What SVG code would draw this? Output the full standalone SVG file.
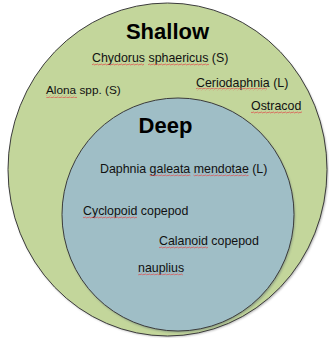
<svg xmlns="http://www.w3.org/2000/svg" width="329" height="338" viewBox="0 0 329 338">
  <style>
    .t { font-family: "Liberation Sans", Arial, sans-serif; font-size: 12.4px; fill: #111; }
    .h { font-family: "Liberation Sans", Arial, sans-serif; font-size: 22px; font-weight: bold; fill: #000; text-anchor: middle; }
    .ring { stroke: #3c3c3c; stroke-width: 1; }
    .sq { fill: url(#squiggle); }
  </style>
  <defs>
    <filter id="shadow" x="-10%" y="-10%" width="120%" height="120%">
      <feGaussianBlur stdDeviation="1"/>
    </filter>
    <pattern id="squiggle" width="4" height="3" patternUnits="userSpaceOnUse">
      <path d="M0,2.2 L1,0.8 L3,2.2 L4,0.8" fill="none" stroke="#e04848" stroke-width="0.65"/>
    </pattern>
  </defs>
  <rect width="329" height="338" fill="#ffffff"/>

  <g id="shallow">
    <ellipse cx="168.5" cy="171" rx="159.5" ry="166" fill="#6a6a6a" opacity="0.55" filter="url(#shadow)"/>
    <ellipse class="ring" cx="167.5" cy="169.5" rx="159.5" ry="166.5" fill="#c3d69b"/>
    <text class="h" x="167.5" y="39">Shallow</text>
  </g>

  <g id="deep">
    <ellipse cx="179" cy="216" rx="116" ry="116.5" fill="#5a6a6e" opacity="0.5" filter="url(#shadow)"/>
    <ellipse class="ring" cx="178" cy="214.5" rx="116" ry="116.5" fill="#9fbec6"/>
    <text class="h" x="165.5" y="133">Deep</text>
  </g>

  <g id="chydorus">
    <text class="t" x="92" y="62">Chydorus sphaericus (S)</text>
    <rect class="sq" x="92" y="63" width="52" height="3"/>
    <rect class="sq" x="148" y="63" width="61" height="3"/>
  </g>
  <g id="ceriodaphnia">
    <text class="t" x="196" y="86.5">Ceriodaphnia (L)</text>
    <rect class="sq" x="196" y="87.5" width="71" height="3"/>
  </g>
  <g id="alona">
    <text class="t" x="46" y="94" style="font-size:11.8px">Alona spp.  (S)</text>
    <rect class="sq" x="46" y="95" width="31" height="3"/>
  </g>
  <g id="ostracod">
    <text class="t" x="251" y="110">Ostracod</text>
    <rect class="sq" x="251" y="111" width="51" height="3"/>
  </g>
  <g id="daphnia">
    <text class="t" x="100" y="172.5">Daphnia galeata mendotae (L)</text>
    <rect class="sq" x="149.5" y="173.5" width="41" height="3"/>
    <rect class="sq" x="193.5" y="173.5" width="55" height="3"/>
  </g>
  <g id="cyclopoid">
    <text class="t" x="83" y="215">Cyclopoid copepod</text>
    <rect class="sq" x="83" y="216" width="54" height="3"/>
  </g>
  <g id="calanoid">
    <text class="t" x="159" y="245">Calanoid copepod</text>
    <rect class="sq" x="159" y="246" width="49" height="3"/>
  </g>
  <g id="nauplius">
    <text class="t" x="138" y="271.5">nauplius</text>
    <rect class="sq" x="138" y="272.5" width="45" height="3"/>
  </g>
</svg>
